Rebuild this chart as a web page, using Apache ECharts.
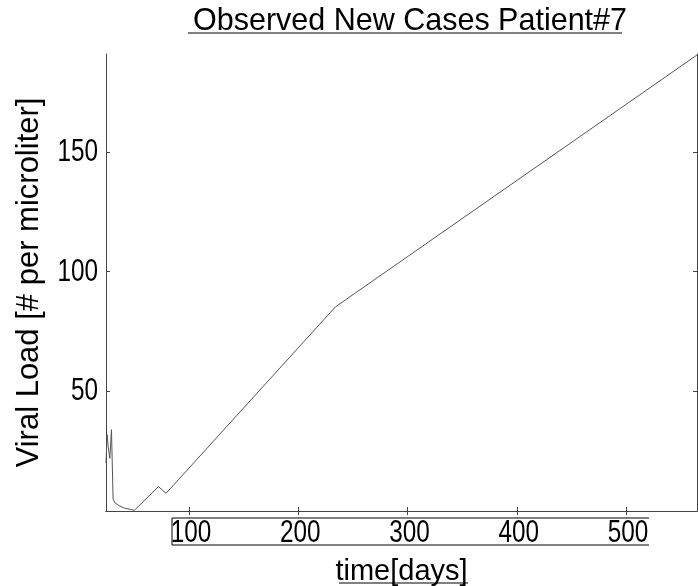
<!DOCTYPE html>
<html>
<head>
<meta charset="utf-8">
<script src="https://cdn.jsdelivr.net/npm/echarts@6/dist/echarts.min.js"></script>
<style>
html,body{margin:0;padding:0;background:#fff;}
#c{width:698px;height:586px;}
</style>
</head>
<body>
<div id="c"></div>
<script>
var titleText = 'Observed New Cases Patient#7';
var xName = 'time[days]';
var yName = 'Viral Load [# per microliter]';
var days = [24, 25, 26, 27.5, 29, 30.5, 32, 36, 41, 50, 72, 79, 234, 565];
var load = [20, 32, 27, 22, 34, 5, 3.5, 2.2, 1.2, 0.3, 10.2, 7.4, 85.3, 190.6];
var xTicks = [100, 200, 300, 400, 500];
var yTicks = [50, 100, 150];

var FONT = '"Liberation Sans", Arial, sans-serif';
var pts = days.map(function (d, i) { return [d, load[i]]; });

var chart = echarts.init(document.getElementById('c'), null, {renderer: 'canvas'});
var frameLine = {show: true, lineStyle: {color: '#444', width: 1}};
function inTick(vals) { return {show: true, inside: true, length: 4, customValues: vals, lineStyle: {color: '#444'}}; }
chart.setOption({
  animation: false,
  backgroundColor: '#fff',
  title: {
    text: titleText, left: 188, top: 1,
    textStyle: {fontFamily: FONT, fontSize: 30.5, fontWeight: 'normal', color: '#000'}
  },
  grid: {left: 106, right: 1, top: 54, bottom: 75, containLabel: false, outerBoundsMode: 'none'},
  xAxis: [{
    type: 'value', min: 24, max: 565, position: 'bottom',
    name: xName, nameLocation: 'middle', nameGap: 46,
    nameTextStyle: {fontFamily: FONT, fontSize: 29, color: '#000'},
    axisLine: frameLine, axisTick: inTick(xTicks), splitLine: {show: false},
    axisLabel: {show: false}
  }, {
    type: 'value', min: 24, max: 565, position: 'top',
    axisLine: frameLine, axisTick: inTick(xTicks), axisLabel: {show: false}, splitLine: {show: false}
  }],
  yAxis: [{
    type: 'value', min: 0, max: 191, position: 'left',
    name: yName, nameLocation: 'middle', nameGap: 61, nameRotate: 90,
    nameTextStyle: {fontFamily: FONT, fontSize: 31, color: '#000'},
    axisLine: frameLine, axisTick: inTick(yTicks), splitLine: {show: false},
    axisLabel: {show: false}
  }, {
    type: 'value', min: 0, max: 191, position: 'right',
    axisLine: frameLine, axisTick: inTick(yTicks), axisLabel: {show: false}, splitLine: {show: false}
  }],
  series: [{
    type: 'line', data: pts, showSymbol: false, symbol: 'none',
    lineStyle: {color: '#555', width: 1}
  }]
});

// tick labels placed through the axes' own scales, drawn horizontally condensed
var g = [];
xTicks.forEach(function (v) {
  var px = chart.convertToPixel({xAxisIndex: 0}, v);
  g.push({type: 'text', x: px + 2, y: 533, scaleX: 0.76,
    style: {text: String(v), font: '32px ' + FONT, fill: '#000', align: 'center', verticalAlign: 'middle'}});
});
yTicks.forEach(function (v) {
  var py = chart.convertToPixel({yAxisIndex: 0}, v);
  g.push({type: 'text', x: 98, y: py, scaleX: 0.76,
    style: {text: String(v), font: '32px ' + FONT, fill: '#000', align: 'right', verticalAlign: 'middle'}});
});
// underlines / label box strokes
g.push({type: 'line', shape: {x1: 188, y1: 33, x2: 622, y2: 33}, style: {stroke: '#000', lineWidth: 1}});
g.push({type: 'line', shape: {x1: 172, y1: 518, x2: 649, y2: 518}, style: {stroke: '#000', lineWidth: 1}});
g.push({type: 'line', shape: {x1: 172, y1: 545, x2: 649, y2: 545}, style: {stroke: '#000', lineWidth: 1}});
g.push({type: 'line', shape: {x1: 172, y1: 518, x2: 172, y2: 545}, style: {stroke: '#000', lineWidth: 1}});
g.push({type: 'line', shape: {x1: 339, y1: 583, x2: 468, y2: 583}, style: {stroke: '#000', lineWidth: 1}});
chart.setOption({graphic: g});
</script>
</body>
</html>
